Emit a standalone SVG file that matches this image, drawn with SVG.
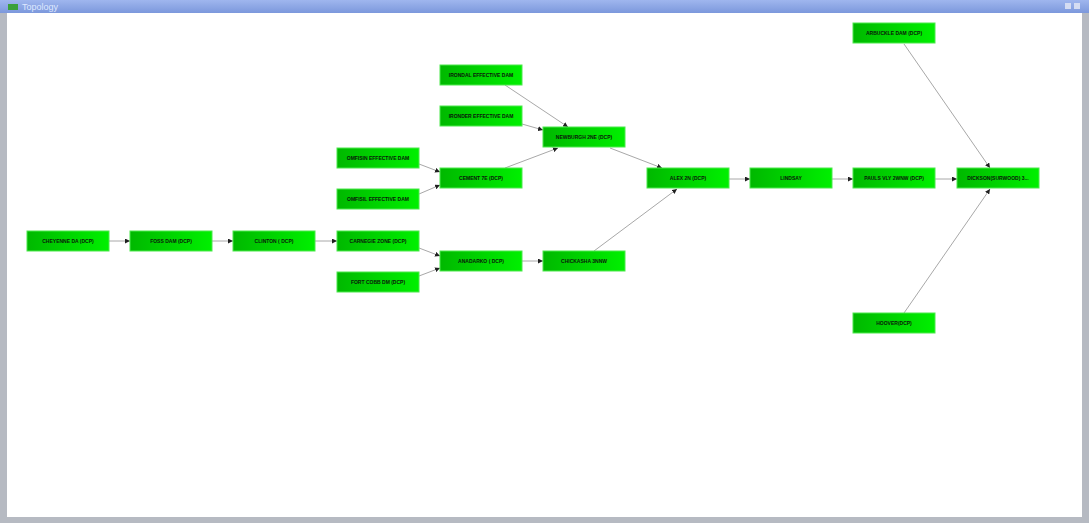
<svg xmlns="http://www.w3.org/2000/svg" width="1089" height="523" viewBox="0 0 1089 523">
<defs>
<linearGradient id="tb" x1="0" y1="0" x2="0" y2="1"><stop offset="0" stop-color="#9fb6ee"/><stop offset="1" stop-color="#7c98dc"/></linearGradient>
<linearGradient id="ng" x1="0" y1="0" x2="1" y2="0"><stop offset="0" stop-color="#00b800"/><stop offset="1" stop-color="#00f000"/></linearGradient>
<marker id="ah" viewBox="0 0 10 10" refX="10" refY="5" markerWidth="5" markerHeight="5" orient="auto" markerUnits="userSpaceOnUse"><path d="M0,0 L10,5 L0,10 z" fill="#202020"/></marker>
</defs>
<style>
.n rect{fill:url(#ng);stroke:#4ce84c;stroke-width:1}
.n text{font-family:"Liberation Sans",Arial,sans-serif;font-size:5px;font-weight:bold;fill:#0a180a;text-anchor:middle}
#edges line{stroke:#a8a8a8;stroke-width:1;marker-end:url(#ah)}
</style>
<rect x="0" y="0" width="1089" height="523" fill="#b6bac2"/>
<rect x="0" y="0" width="1089" height="13" fill="url(#tb)"/>
<rect x="7" y="13" width="1075" height="504" fill="#ffffff"/>
<rect x="8" y="4" width="10" height="6" fill="#3aa03a"/>
<text x="22" y="10" font-family="Liberation Sans,Arial,sans-serif" font-size="9" fill="#dfe8ff">Topology</text>
<rect x="1065" y="3" width="6" height="6" fill="#d4dcf2"/>
<rect x="1074" y="3" width="6" height="6" fill="#d4dcf2"/>
<g id="edges">
<line x1="109" y1="241" x2="130" y2="241"/>
<line x1="212" y1="241" x2="233" y2="241"/>
<line x1="315" y1="241" x2="337" y2="241"/>
<line x1="419" y1="248" x2="440" y2="256"/>
<line x1="419" y1="276" x2="440" y2="268"/>
<line x1="522" y1="261" x2="543" y2="261"/>
<line x1="594" y1="251" x2="677" y2="189"/>
<line x1="419" y1="164" x2="440" y2="172"/>
<line x1="419" y1="194" x2="440" y2="185"/>
<line x1="505" y1="168" x2="558" y2="148"/>
<line x1="505" y1="85" x2="568" y2="127"/>
<line x1="522" y1="124" x2="543" y2="130"/>
<line x1="610" y1="148" x2="662" y2="168"/>
<line x1="729" y1="179" x2="750" y2="179"/>
<line x1="832" y1="179" x2="853" y2="179"/>
<line x1="935" y1="179" x2="957" y2="179"/>
<line x1="904" y1="44" x2="990" y2="168"/>
<line x1="904" y1="313" x2="990" y2="189"/>
</g>
<g id="n-cheyenne" class="n"><rect x="27" y="231" width="82" height="20"/><text x="68" y="243">CHEYENNE DA (DCP)</text></g>
<g id="n-foss" class="n"><rect x="130" y="231" width="82" height="20"/><text x="171" y="243">FOSS DAM (DCP)</text></g>
<g id="n-clinton" class="n"><rect x="233" y="231" width="82" height="20"/><text x="274" y="243">CLINTON ( DCP)</text></g>
<g id="n-carnegie" class="n"><rect x="337" y="231" width="82" height="20"/><text x="378" y="243">CARNEGIE ZONE (DCP)</text></g>
<g id="n-fortcobb" class="n"><rect x="337" y="272" width="82" height="20"/><text x="378" y="284">FORT COBB DM (DCP)</text></g>
<g id="n-anadarko" class="n"><rect x="440" y="251" width="82" height="20"/><text x="481" y="263">ANADARKO ( DCP)</text></g>
<g id="n-chickasha" class="n"><rect x="543" y="251" width="82" height="20"/><text x="584" y="263">CHICKASHA 3NNW</text></g>
<g id="n-omfisin" class="n"><rect x="337" y="148" width="82" height="20"/><text x="378" y="160">OMFISIN EFFECTIVE DAM</text></g>
<g id="n-omfisil" class="n"><rect x="337" y="189" width="82" height="20"/><text x="378" y="201">OMFISIL EFFECTIVE DAM</text></g>
<g id="n-cement" class="n"><rect x="440" y="168" width="82" height="20"/><text x="481" y="180">CEMENT 7E   (DCP)</text></g>
<g id="n-irondal" class="n"><rect x="440" y="65" width="82" height="20"/><text x="481" y="77">IRONDAL EFFECTIVE DAM</text></g>
<g id="n-ironder" class="n"><rect x="440" y="106" width="82" height="20"/><text x="481" y="118">IRONDER EFFECTIVE DAM</text></g>
<g id="n-newburgh" class="n"><rect x="543" y="127" width="82" height="20"/><text x="584" y="139">NEWBURGH 2NE (DCP)</text></g>
<g id="n-alex" class="n"><rect x="647" y="168" width="82" height="20"/><text x="688" y="180">ALEX 2N (DCP)</text></g>
<g id="n-lindsay" class="n"><rect x="750" y="168" width="82" height="20"/><text x="791" y="180">LINDSAY</text></g>
<g id="n-pauls" class="n"><rect x="853" y="168" width="82" height="20"/><text x="894" y="180">PAULS VLY 2WNW (DCP)</text></g>
<g id="n-dickson" class="n"><rect x="957" y="168" width="82" height="20"/><text x="998" y="180">DICKSON(SURWOOD) 3...</text></g>
<g id="n-arbuckle" class="n"><rect x="853" y="23" width="82" height="20"/><text x="894" y="35">ARBUCKLE DAM (DCP)</text></g>
<g id="n-hoover" class="n"><rect x="853" y="313" width="82" height="20"/><text x="894" y="325">HOOVER(DCP)</text></g>
</svg>
